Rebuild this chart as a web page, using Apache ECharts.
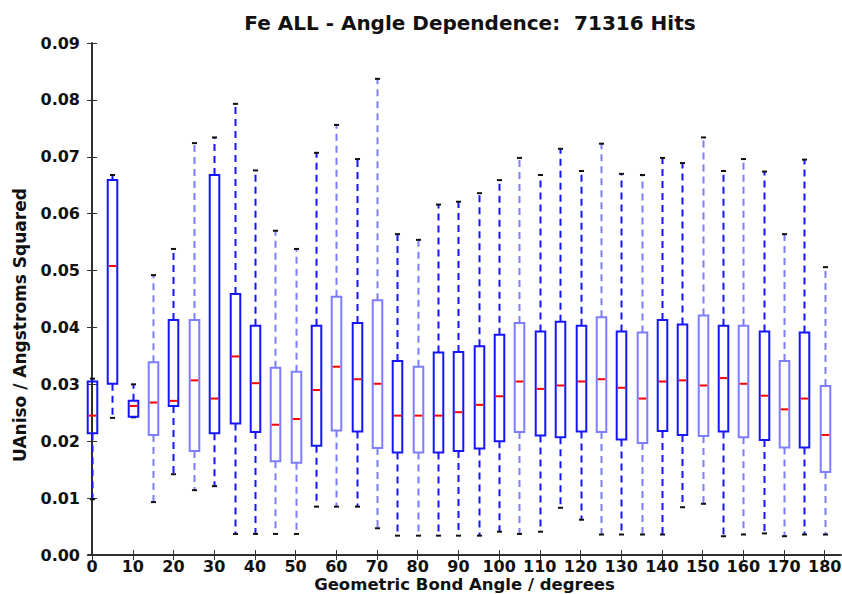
<!DOCTYPE html>
<html>
<head>
<meta charset="utf-8">
<script src="https://cdn.jsdelivr.net/npm/echarts@6/dist/echarts.min.js"></script>
<style>
html,body{margin:0;padding:0;background:#fff;overflow:hidden;}
#chart{width:842px;height:594px;}
</style>
</head>
<body>
<div id="chart"></div>
<script>
// ---- data ----
const angles = [0,5,10,15,20,25,30,35,40,45,50,55,60,65,70,75,80,85,90,95,100,105,110,115,120,125,130,135,140,145,150,155,160,165,170,175,180];
const whiskerLow = [0.0098,0.0241,0.0242,0.0093,0.0142,0.0114,0.0121,0.0037,0.0037,0.0037,0.0037,0.0085,0.0085,0.0085,0.0047,0.0034,0.0034,0.0034,0.0034,0.0034,0.0041,0.0037,0.0041,0.0083,0.0062,0.0036,0.0036,0.0036,0.0036,0.0084,0.0090,0.0033,0.0036,0.0038,0.0033,0.0036,0.0036];
const quartile1 = [0.0214,0.0301,0.0243,0.0211,0.0262,0.0183,0.0214,0.0231,0.0216,0.0165,0.0162,0.0192,0.0219,0.0217,0.0188,0.0180,0.0180,0.0180,0.0183,0.0187,0.0200,0.0216,0.0210,0.0207,0.0217,0.0216,0.0203,0.0197,0.0218,0.0211,0.0209,0.0217,0.0207,0.0202,0.0189,0.0189,0.0146];
const medians = [0.0245,0.0508,0.0262,0.0268,0.0271,0.0307,0.0275,0.0349,0.0302,0.0229,0.0239,0.0290,0.0331,0.0309,0.0301,0.0245,0.0245,0.0245,0.0251,0.0264,0.0279,0.0305,0.0292,0.0298,0.0305,0.0309,0.0294,0.0275,0.0305,0.0307,0.0298,0.0311,0.0301,0.0280,0.0256,0.0275,0.0211];
const quartile3 = [0.0305,0.0659,0.0271,0.0339,0.0413,0.0413,0.0668,0.0459,0.0403,0.0329,0.0322,0.0403,0.0454,0.0408,0.0448,0.0341,0.0331,0.0356,0.0357,0.0367,0.0387,0.0408,0.0393,0.0410,0.0403,0.0418,0.0393,0.0391,0.0413,0.0405,0.0421,0.0403,0.0403,0.0393,0.0341,0.0391,0.0297];
const whiskerHigh = [0.0310,0.0668,0.0300,0.0492,0.0538,0.0724,0.0734,0.0793,0.0676,0.0570,0.0538,0.0707,0.0756,0.0696,0.0837,0.0564,0.0554,0.0616,0.0621,0.0636,0.0659,0.0698,0.0668,0.0714,0.0675,0.0723,0.0670,0.0668,0.0698,0.0689,0.0734,0.0675,0.0696,0.0674,0.0564,0.0695,0.0506];
const xTickValues = [0,10,20,30,40,50,60,70,80,90,100,110,120,130,140,150,160,170,180];
const titleText = 'Fe ALL - Angle Dependence:  71316 Hits';
const xName = 'Geometric Bond Angle / degrees';
const yName = 'UAniso / Angstroms Squared';

// ---- styling ----
const FONT = "'DejaVu Sans', sans-serif";
const BOX_W = 2.35;   // box width in axis units
const CAP_W = 1.25;
const lightAngles = new Set([15,25,45,50,60,70,80,105,125,135,150,160,170,180]);

const seriesData = angles.map((a, i) => [a, whiskerLow[i], quartile1[i], medians[i], quartile3[i], whiskerHigh[i]]);

function renderItem(params, api) {
  const x = api.value(0);
  const pLo = api.coord([x, api.value(1)]);
  const pQ1 = api.coord([x, api.value(2)]);
  const pMed = api.coord([x, api.value(3)]);
  const pQ3 = api.coord([x, api.value(4)]);
  const pHi = api.coord([x, api.value(5)]);
  const hw = api.size([BOX_W, 0])[0] / 2;
  const cw = api.size([CAP_W, 0])[0] / 2;
  const cx = Math.round(pQ1[0]) + 0.5;
  const col = lightAngles.has(x) ? '#7d7dff' : '#1515ff';
  const dash = {stroke: col, lineWidth: 2, lineDash: [7, 5], fill: null};
  return {
    type: 'group',
    children: [
      {type: 'line', shape: {x1: cx, y1: pQ3[1], x2: cx, y2: pHi[1]}, style: dash},
      {type: 'line', shape: {x1: cx, y1: pQ1[1], x2: cx, y2: pLo[1]}, style: dash},
      {type: 'line', shape: {x1: cx - cw, y1: pHi[1], x2: cx + cw, y2: pHi[1]}, style: {stroke: '#111', lineWidth: 2}},
      {type: 'line', shape: {x1: cx - cw, y1: pLo[1], x2: cx + cw, y2: pLo[1]}, style: {stroke: '#111', lineWidth: 2}},
      {type: 'rect', shape: {x: cx - hw, y: pQ3[1], width: hw * 2, height: pQ1[1] - pQ3[1]}, style: {stroke: col, lineWidth: 2, fill: null}},
      {type: 'line', shape: {x1: cx - hw + 1, y1: pMed[1], x2: cx + hw - 1, y2: pMed[1]}, style: {stroke: '#ff0000', lineWidth: 2}}
    ]
  };
}

const chart = echarts.init(document.getElementById('chart'), null, {renderer: 'svg'});
const axisLineStyle = {color: '#222', width: 1.5};
const tickStyle = {inside: true, length: 5, lineStyle: {color: '#333', width: 1}};

chart.setOption({
  animation: false,
  backgroundColor: '#fff',
  title: {
    text: titleText,
    left: 465,
    textAlign: 'center',
    top: 8,
    textStyle: {fontFamily: FONT, fontWeight: 'bold', fontSize: 20, color: '#111'}
  },
  grid: {left: 88, top: 43, right: 1, bottom: 39, containLabel: false, outerBoundsMode: 'none'},
  xAxis: [{
    type: 'value', position: 'bottom', min: -1, max: 184,
    name: xName, nameLocation: 'middle', nameGap: 21, nameMoveOverlap: false,
    nameTextStyle: {fontFamily: FONT, fontWeight: 'bold', fontSize: 16.5, lineHeight: 16, color: '#111'},
    axisLine: {show: true, lineStyle: axisLineStyle},
    axisTick: Object.assign({show: true, customValues: xTickValues}, tickStyle),
    axisLabel: {show: true, customValues: xTickValues, margin: 3, fontFamily: FONT, fontWeight: 'bold', fontSize: 16, lineHeight: 16, color: '#111', hideOverlap: false},
    splitLine: {show: false}
  }, {
    type: 'value', position: 'top', min: -1, max: 184,
    axisLine: {show: true, lineStyle: axisLineStyle},
    axisTick: Object.assign({show: true, customValues: xTickValues}, tickStyle),
    axisLabel: {show: false},
    splitLine: {show: false}
  }],
  yAxis: [{
    type: 'value', position: 'left', min: 0, max: 0.09, interval: 0.01,
    axisLine: {show: true, lineStyle: axisLineStyle},
    axisTick: Object.assign({show: true}, tickStyle),
    axisLabel: {show: true, margin: 8, fontFamily: FONT, fontWeight: 'bold', fontSize: 16, color: '#111',
      formatter: v => v.toFixed(2)},
    splitLine: {show: false}
  }, {
    type: 'value', position: 'right', min: 0, max: 0.09, interval: 0.01,
    axisLine: {show: true, lineStyle: axisLineStyle},
    axisTick: Object.assign({show: true}, tickStyle),
    axisLabel: {show: false},
    splitLine: {show: false}
  }],
  graphic: [{
    type: 'text', x: 20, y: 325, rotation: Math.PI / 2,
    style: {text: yName, font: "bold 17px 'DejaVu Sans', sans-serif", fill: '#111', textAlign: 'center', textVerticalAlign: 'middle'}
  }],
  series: [{
    type: 'custom',
    xAxisIndex: 0, yAxisIndex: 0,
    renderItem: renderItem,
    encode: {x: 0, y: [1, 2, 3, 4, 5]},
    data: seriesData,
    clip: false
  }]
});
</script>
</body>
</html>
